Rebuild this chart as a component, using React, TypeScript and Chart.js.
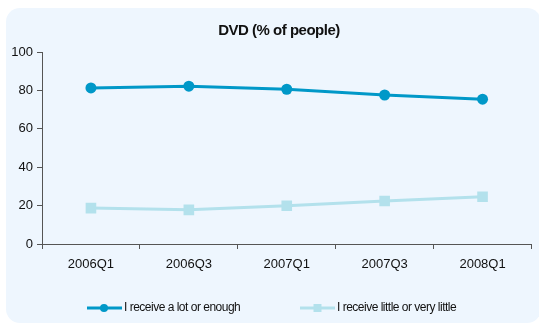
import React, { useEffect, useRef } from "react";
import { Chart, registerables } from "chart.js";

Chart.register(...registerables);

const categories = ["2006Q1", "2006Q3", "2007Q1", "2007Q3", "2008Q1"];
const lotOrEnough = [81.3, 82.2, 80.6, 77.6, 75.4];
const littleOrVeryLittle = [18.7, 17.8, 19.9, 22.4, 24.6];
const seriesNames = ["I receive a lot or enough", "I receive little or very little"];
const yTicks = [0, 20, 40, 60, 80, 100];
const chartTitle = "DVD (% of people)";

const COLOR_A = "#0098C8";
const COLOR_B = "#B3E1EC";
const PANEL = "#EEF6FE";
const AXIS = "#555555";

const panelPlugin = {
  id: "panelAndLegend",
  beforeDraw(chart: any) {
    const ctx = chart.ctx;
    ctx.save();
    ctx.fillStyle = "#ffffff";
    ctx.fillRect(0, 0, chart.width, chart.height);
    ctx.fillStyle = PANEL;
    ctx.beginPath();
    (ctx as any).roundRect(6, 8, 535, chart.height - 9, 14);
    ctx.fill();
    ctx.restore();
  },
  afterDraw(chart: any) {
    const ctx = chart.ctx;
    ctx.save();
    // title
    ctx.fillStyle = "#111111";
    ctx.font = "bold 15px 'Liberation Sans', Arial, sans-serif";
    (ctx as any).letterSpacing = "-0.5px";
    ctx.textAlign = "center";
    ctx.textBaseline = "middle";
    ctx.fillText(chartTitle, 279, 31);
    // legend
    const items = [
      { x: 87, color: COLOR_A, style: "circle" },
      { x: 300, color: COLOR_B, style: "rect" },
    ];
    const y = 308;
    items.forEach((it, i) => {
      ctx.strokeStyle = it.color;
      ctx.lineWidth = 3;
      ctx.beginPath();
      ctx.moveTo(it.x, y);
      ctx.lineTo(it.x + 35, y);
      ctx.stroke();
      ctx.fillStyle = it.color;
      if (it.style === "circle") {
        ctx.beginPath();
        ctx.arc(it.x + 17, y, 4, 0, Math.PI * 2);
        ctx.fill();
      } else {
        ctx.fillRect(it.x + 13.5, y - 4, 8, 8);
      }
      ctx.fillStyle = "#111111";
      ctx.font = "12px 'Liberation Sans', Arial, sans-serif";
      (ctx as any).letterSpacing = "-0.5px";
      ctx.textAlign = "left";
      ctx.textBaseline = "middle";
      ctx.fillText(seriesNames[i], it.x + 37, y);
    });
    ctx.restore();
  },
};

export default function App() {
  const ref = useRef<HTMLCanvasElement>(null);
  useEffect(() => {
    document.body.style.margin = "0";
    const canvas = ref.current!;
    const chart = new Chart(canvas, {
      type: "line",
      data: {
        labels: categories,
        datasets: [
          {
            label: seriesNames[0],
            data: lotOrEnough,
            borderColor: COLOR_A,
            backgroundColor: COLOR_A,
            borderWidth: 3,
            pointStyle: "circle",
            pointRadius: 5.5,
            pointHoverRadius: 5.5,
            pointBorderWidth: 0,
            tension: 0,
          },
          {
            label: seriesNames[1],
            data: littleOrVeryLittle,
            borderColor: COLOR_B,
            backgroundColor: COLOR_B,
            borderWidth: 3,
            pointStyle: "rect",
            pointRadius: 7.5,
            pointHoverRadius: 7.5,
            pointBorderWidth: 0,
            tension: 0,
          },
        ],
      },
      options: {
        animation: false,
        responsive: false,
        maintainAspectRatio: false,
        devicePixelRatio: 1,
        layout: { padding: { left: 0, right: 7, top: 52, bottom: 0 } },
        plugins: {
          legend: { display: false },
          title: { display: false },
          tooltip: { enabled: false },
        },
        scales: {
          x: {
            type: "category",
            offset: true,
            grid: {
              display: true,
              drawOnChartArea: false,
              drawTicks: true,
              tickLength: 5,
              color: AXIS,
              offset: true,
            },
            border: { display: true, color: AXIS, width: 1 },
            ticks: {
              color: "#111111",
              padding: 8,
              font: { family: "'Liberation Sans', Arial, sans-serif", size: 13 },
              maxRotation: 0,
            },
            afterFit(scale: any) {
              scale.height = 324 - 244;
            },
          },
          y: {
            min: 0,
            max: 100,
            afterBuildTicks(scale: any) {
              scale.ticks = yTicks.map((v) => ({ value: v }));
            },
            grid: {
              display: true,
              drawOnChartArea: false,
              drawTicks: true,
              tickLength: 5,
              color: AXIS,
            },
            border: { display: true, color: AXIS, width: 1 },
            ticks: {
              color: "#111111",
              padding: 4,
              font: { family: "'Liberation Sans', Arial, sans-serif", size: 13 },
            },
            afterFit(scale: any) {
              scale.width = 42;
            },
          },
        },
      },
      plugins: [panelPlugin],
    });
    return () => chart.destroy();
  }, []);
  return <canvas ref={ref} width={539} height={324} style={{ display: "block" }} />;
}
